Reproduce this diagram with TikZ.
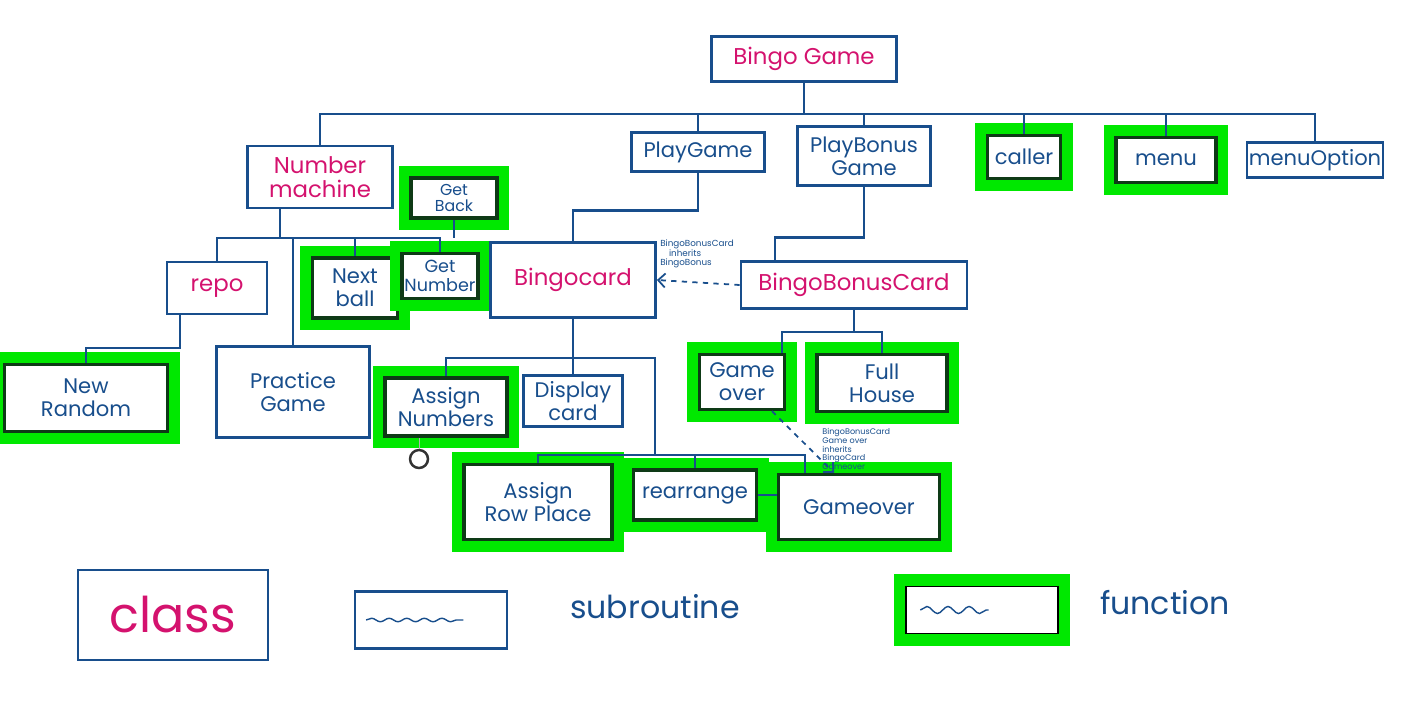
\documentclass[tikz,border=0pt]{standalone}
\usepackage{fontspec}
\setmainfont{Poppins}
\usepackage{tikz}
\usetikzlibrary{arrows.meta, positioning, decorations.pathmorphing}
\definecolor{inkblue}{RGB}{24,78,140}
\definecolor{classpink}{RGB}{212,18,110}
\definecolor{hlgreen}{RGB}{0,232,0}
\definecolor{fnedge}{RGB}{14,58,22}
\tikzstyle{classbox} = [rectangle, draw=inkblue, line width=1.6pt, text=classpink, align=center, font=\fontsize{13}{14}\selectfont]
\tikzstyle{subbox} = [rectangle, draw=inkblue, line width=1.6pt, text=inkblue, align=center, font=\fontsize{12}{13}\selectfont]
\tikzstyle{fnbox} = [rectangle, draw=fnedge, line width=1.8pt, fill=white, text=inkblue, align=center, font=\fontsize{12}{13}\selectfont, preaction={draw=hlgreen, line width=14pt}]
\tikzstyle{conn} = [draw=inkblue, line width=1.6pt]
\tikzstyle{inherit} = [inkblue, line width=1pt, dashed, -{Straight Barb[length=4pt]}]
\tikzstyle{note} = [text=inkblue, align=left, font=\fontsize{5}{5.5}\selectfont, inner sep=0pt]

\begin{document}
\begin{tikzpicture}[x=0.02cm, y=-0.02cm]
    \useasboundingbox (0,0) rectangle (1416,703);

    % Top level
    \node[classbox, minimum width=3.7cm, minimum height=0.9cm] (bingo) at (804,59) {Bingo Game};
    \node[classbox, minimum width=2.9cm, minimum height=1.24cm] (nummach) at (320,177) {Number\\machine};
    \node[subbox, minimum width=2.66cm, minimum height=0.78cm] (playgame) at (698,152) {PlayGame};
    \node[subbox, minimum width=2.66cm, minimum height=1.18cm] (playbonus) at (864,156) {PlayBonus\\Game};
    \node[fnbox, minimum width=1.46cm, minimum height=0.86cm] (caller) at (1024,157) {caller};
    \node[fnbox, minimum width=2cm, minimum height=0.9cm] (menu) at (1166,160) {menu};
    \node[subbox, minimum width=2.5cm, minimum height=0.7cm, inner sep=1pt] (menuopt) at (1315,160) {menuOption};

    % Under Number machine
    \node[fnbox, minimum width=1.72cm, minimum height=0.8cm, inner sep=1.5pt, font=\fontsize{9}{9.5}\selectfont] (getback) at (454,198) {Get\\Back};
    \node[classbox, minimum width=2cm, minimum height=1.04cm] (repo) at (217,288) {repo};
    \node[fnbox, minimum width=1.7cm, minimum height=1.2cm] (nextball) at (355,288) {Next\\ball};
    \node[fnbox, minimum width=1.52cm, minimum height=0.9cm, font=\fontsize{10}{11}\selectfont, inner sep=1pt] (getnum) at (440,276) {Get\\Number};
    \node[fnbox, minimum width=3.26cm, minimum height=1.34cm] (newrandom) at (86,398) {New\\Random};
    \node[subbox, minimum width=3.06cm, minimum height=1.82cm] (practice) at (293,392) {Practice\\Game};

    % Cards
    \node[classbox, minimum width=3.3cm, minimum height=1.5cm] (bingocard) at (573,280) {Bingocard};
    \node[classbox, minimum width=4.52cm, minimum height=0.94cm] (bonuscard) at (854,285) {BingoBonusCard};
    \node[fnbox, minimum width=2.44cm, minimum height=1.16cm] (assignnum) at (446,407) {Assign\\Numbers};
    \node[subbox, minimum width=1.98cm, minimum height=1.02cm] (display) at (573,401) {Display\\card};
    \node[fnbox, minimum width=1.7cm, minimum height=1.1cm] (gameover1) at (742,382) {Game\\over};
    \node[fnbox, minimum width=2.6cm, minimum height=1.14cm] (fullhouse) at (882,383) {Full\\House};
    \node[fnbox, minimum width=2.96cm, minimum height=1.5cm] (assignrow) at (538,502) {Assign\\Row Place};
    \node[fnbox, minimum width=2.46cm, minimum height=1cm] (rearrange) at (695,495) {rearrange};
    \node[fnbox, minimum width=3.22cm, minimum height=1.3cm] (gameover2) at (859,507) {Gameover};

    % Tree lines
    \coordinate (bus1) at (800,114);
    \draw[conn] (bingo.south) -- (bingo.south |- bus1);
    \draw[conn] (nummach.north) |- (bus1) -| (menuopt.north);
    \foreach \n in {playgame, playbonus, caller, menu}
        \draw[conn] (\n.north) -- (\n.north |- bus1);

    \coordinate (bus2) at (300,238);
    \draw[conn] (repo.north) |- (bus2) -| (getnum.north);
    \draw[conn] ([xshift=-0.8cm]nummach.south) -- ([xshift=-0.8cm]nummach.south |- bus2);
    \draw[conn] (getback.south) -- (getback.south |- bus2);
    \draw[conn] (nextball.north) -- (nextball.north |- bus2);
    \draw[conn] (practice.north) -- (practice.north |- bus2);

    \coordinate (bus3) at (130,348);
    \draw[conn] ([xshift=-0.74cm]repo.south) |- (bus3) -| (newrandom.north);

    \draw[conn] (playgame.south) -- ++(0,38) -| (bingocard.north);
    \draw[conn] (playbonus.south) -- ++(0,51) -| ([xshift=-1.58cm]bonuscard.north);

    \coordinate (bus4) at (573,358);
    \coordinate (bus5) at (655,455);
    \draw[conn] (bingocard.south) -- (display.north);
    \draw[conn] (assignnum.north) |- (bus4) -| (bus5);
    \draw[conn] (assignrow.north) |- (bus5) -| ([xshift=-1.08cm]gameover2.north);
    \draw[conn] (rearrange.north) -- (rearrange.north |- bus5);
    \draw[conn] (rearrange.east) -- (rearrange.east -| gameover2.west);

    \coordinate (bus6) at (854,332);
    \draw[conn] (bonuscard.south) -- (bus6);
    \draw[conn] ([xshift=0.8cm]gameover1.north) |- (bus6) -| (fullhouse.north);

    % Inheritance
    \draw[inherit] (bonuscard.west) -- (bingocard.east);
    \node[note] (inhnote1) at (697,254) {BingoBonusCard\\\quad inherits\\ BingoBonus};
    \draw[inherit] ([xshift=0.6cm]gameover1.south) -- ([xshift=-0.5cm]gameover2.north);
    \node[note, anchor=north west, font=\fontsize{4.6}{5}\selectfont] (inhnote2) at (822,428) {BingoBonusCard\\ Game over\\ inherits\\ BingoCard\\ Gameover};

    % Cursor mark
    \node[draw=black!80, circle, minimum size=0.36cm, line width=1.4pt, fill=white] (cursor) at (419,459) {};
    \draw[black!30, line width=0.5pt] (cursor.north) -- (cursor.north |- assignnum.south);

    % Legend
    \node[classbox, minimum width=3.8cm, minimum height=1.8cm, font=\fontsize{28}{30}\selectfont] (legclass) at (173,615) {class};
    \node[subbox, minimum width=3.04cm, minimum height=1.14cm] (legsub) at (431,620) {};
    \draw[inkblue, line width=0.8pt, decorate, decoration={snake, amplitude=1pt, segment length=10pt}] ([xshift=0.25cm]legsub.west) -- ([xshift=-0.9cm]legsub.east);
    \node[text=inkblue, font=\fontsize{18}{20}\selectfont] (subtext) at (655,607) {subroutine};
    \node[fnbox, draw=black, line width=0.8pt, minimum width=3.04cm, minimum height=0.94cm] (legfn) at (982,610) {};
    \draw[inkblue, line width=0.8pt, decorate, decoration={snake, amplitude=2pt, segment length=12pt}] ([xshift=0.3cm]legfn.west) -- ([xshift=-1.4cm]legfn.east);
    \node[text=inkblue, font=\fontsize{18}{20}\selectfont] (fntext) at (1165,603) {function};
\end{tikzpicture}
\end{document}
